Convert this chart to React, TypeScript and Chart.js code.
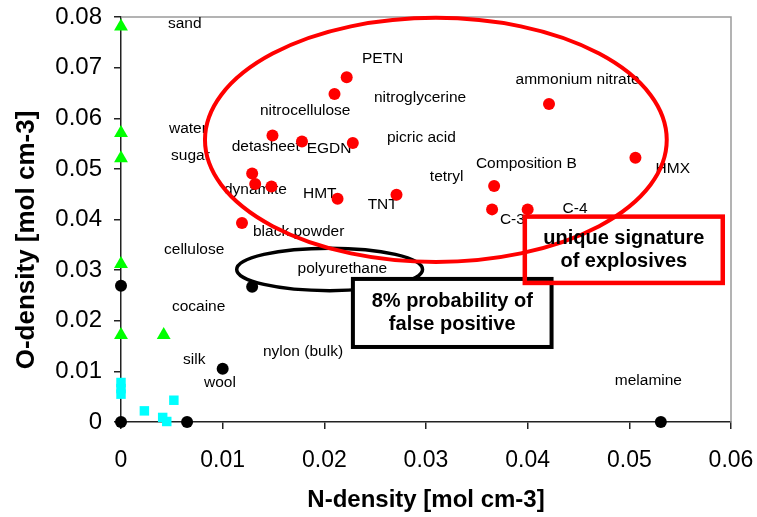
import React, { useEffect, useRef } from 'react';
import { Chart, registerables } from 'chart.js';

Chart.register(...registerables);

// ---- data (N-density, O-density in mol cm-3) ----
const explosivesN = [0.0222, 0.0210, 0.0149, 0.0178, 0.0228, 0.0129, 0.0132, 0.0148, 0.0213, 0.0271, 0.0119, 0.0367, 0.0365, 0.0421, 0.0506, 0.0400];
const explosivesO = [0.0681, 0.0648, 0.0566, 0.0554, 0.0551, 0.0491, 0.0470, 0.0465, 0.0441, 0.0449, 0.0393, 0.0466, 0.0420, 0.0628, 0.0522, 0.0420];

const greenN = [0, 0, 0, 0, 0, 0.0042];
const greenO = [0.0781, 0.0571, 0.0521, 0.0312, 0.0172, 0.0172];

const blackN = [0, 0.0129, 0.0100, 0, 0.0065, 0.0531];
const blackO = [0.0269, 0.0267, 0.0105, 0, 0, 0];

const cyanN = [0, 0, 0, 0.0023, 0.0041, 0.0045, 0.0052];
const cyanO = [0.0078, 0.0066, 0.0055, 0.0022, 0.0009, 0.0001, 0.0043];

const materialNames = ['sand', 'water', 'sugar', 'nitrocellulose', 'PETN', 'nitroglycerine', 'detasheet', 'EGDN', 'picric acid', 'dynamite', 'HMT', 'TNT', 'tetryl', 'Composition B', 'ammonium nitrate', 'HMX', 'C-3', 'C-4', 'black powder', 'cellulose', 'cocaine', 'silk', 'wool', 'nylon (bulk)', 'polyurethane', 'melamine'];
const materialNameN = [0.00462, 0.00472, 0.00492, 0.01367, 0.02370, 0.02488, 0.01089, 0.01826, 0.02616, 0.01013, 0.01790, 0.02426, 0.03038, 0.03491, 0.03881, 0.05258, 0.03727, 0.04343, 0.01298, 0.00423, 0.00501, 0.00610, 0.00816, 0.01396, 0.01737, 0.04857];
const materialNameO = [0.07866, 0.05791, 0.05257, 0.06152, 0.07174, 0.06403, 0.05435, 0.05395, 0.05619, 0.04585, 0.04506, 0.04289, 0.04842, 0.05099, 0.06759, 0.05000, 0.03992, 0.04215, 0.03755, 0.03399, 0.02279, 0.01225, 0.00777, 0.01389, 0.03018, 0.00810];

const xTickValues = [0, 0.01, 0.02, 0.03, 0.04, 0.05, 0.06];
const xTickLabels = ['0', '0.01', '0.02', '0.03', '0.04', '0.05', '0.06'];
const yTickValues = [0, 0.01, 0.02, 0.03, 0.04, 0.05, 0.06, 0.07, 0.08];
const yTickLabels = ['0', '0.01', '0.02', '0.03', '0.04', '0.05', '0.06', '0.07', '0.08'];

const xTitle = 'N-density [mol cm-3]';
const yTitle = 'O-density [mol cm-3]';

// ---- annotation shapes (in data units) ----
const redEllipse = { cx: 0.03097, cy: 0.05573, rx: 0.02271, ry: 0.02411 };
const blackEllipse = { cx: 0.02052, cy: 0.03014, rx: 0.00914, ry: 0.00419 };
const redBox = { x0: 0.03972, x1: 0.05919, y0: 0.02747, y1: 0.04057, lines: ['unique signature', 'of explosives'] };
const blackBox = { x0: 0.02281, x1: 0.04235, y0: 0.01482, y1: 0.02826, lines: ['8% probability of', 'false positive'] };

const FONT = '"Liberation Sans", Arial, sans-serif';

const overlayPlugin = {
  id: 'overlay',
  beforeDatasetsDraw(chart: any) {
    const { ctx, chartArea } = chart;
    const xs = chart.scales.x;
    const ys = chart.scales.y;
    ctx.save();

    // top & right plot border
    ctx.strokeStyle = '#9a9a9a';
    ctx.lineWidth = 1.5;
    ctx.beginPath();
    ctx.moveTo(chartArea.left, chartArea.top);
    ctx.lineTo(chartArea.right, chartArea.top);
    ctx.lineTo(chartArea.right, chartArea.bottom);
    ctx.stroke();

    // material labels
    ctx.fillStyle = '#000';
    ctx.font = `15.5px ${FONT}`;
    ctx.textAlign = 'left';
    ctx.textBaseline = 'middle';
    materialNames.forEach((t, i) => {
      ctx.fillText(t, xs.getPixelForValue(materialNameN[i]), ys.getPixelForValue(materialNameO[i]));
    });

    const drawEllipse = (e: any, color: string, lw: number) => {
      const px = xs.getPixelForValue(e.cx);
      const py = ys.getPixelForValue(e.cy);
      const rx = Math.abs(xs.getPixelForValue(e.cx + e.rx) - px);
      const ry = Math.abs(ys.getPixelForValue(e.cy + e.ry) - py);
      ctx.beginPath();
      ctx.ellipse(px, py, rx, ry, 0, 0, Math.PI * 2);
      ctx.strokeStyle = color;
      ctx.lineWidth = lw;
      ctx.stroke();
    };

    const drawBox = (b: any, color: string, lw: number, fill: boolean) => {
      const l = xs.getPixelForValue(b.x0);
      const r = xs.getPixelForValue(b.x1);
      const t = ys.getPixelForValue(b.y1);
      const bt = ys.getPixelForValue(b.y0);
      if (fill) {
        ctx.fillStyle = '#fff';
        ctx.fillRect(l, t, r - l, bt - t);
      }
      ctx.strokeStyle = color;
      ctx.lineWidth = lw;
      ctx.strokeRect(l, t, r - l, bt - t);
      ctx.fillStyle = '#000';
      ctx.font = `bold 20px ${FONT}`;
      ctx.textAlign = 'center';
      ctx.textBaseline = 'middle';
      const cx = (l + r) / 2;
      const cy = (t + bt) / 2;
      ctx.fillText(b.lines[0], cx, cy - 11.75);
      ctx.fillText(b.lines[1], cx, cy + 11.75);
    };

    drawEllipse(blackEllipse, '#000', 3.5);
    drawBox(blackBox, '#000', 4, true);
    drawEllipse(redEllipse, '#ff0000', 4);
    drawBox(redBox, '#ff0000', 4.5, false);

    ctx.restore();
  },
  afterDraw(chart: any) {
    const { ctx } = chart;
    ctx.save();
    ctx.translate(33.5, 240);
    ctx.rotate(-Math.PI / 2);
    ctx.font = `bold 26px ${FONT}`;
    ctx.fillStyle = '#000';
    ctx.textAlign = 'center';
    ctx.textBaseline = 'alphabetic';
    ctx.fillText(yTitle, 0, 0);
    ctx.restore();
  },
};

const toPoints = (xs: number[], ys: number[]) => xs.map((v, i) => ({ x: v, y: ys[i] }));

const zeroPadding = (scale: any) => {
  scale.paddingLeft = 0;
  scale.paddingRight = 0;
  scale.paddingTop = 0;
  scale.paddingBottom = 0;
};

export default function App() {
  const ref = useRef<HTMLCanvasElement | null>(null);

  useEffect(() => {
    document.body.style.margin = '0';
    if (!ref.current) return;
    const chart = new Chart(ref.current, {
      type: 'scatter',
      data: {
        datasets: [
          {
            label: 'other',
            data: toPoints(cyanN, cyanO),
            pointStyle: 'rect',
            pointRadius: 6.7,
            backgroundColor: '#00ffff',
            borderWidth: 0,
            clip: false,
          },
          {
            label: 'non-explosive (black)',
            data: toPoints(blackN, blackO),
            pointStyle: 'circle',
            pointRadius: 6,
            backgroundColor: '#000',
            borderWidth: 0,
            clip: false,
          },
          {
            label: 'non-explosive (green)',
            data: toPoints(greenN, greenO),
            pointStyle: 'triangle',
            pointRadius: 8,
            backgroundColor: '#00ff00',
            borderWidth: 0,
            clip: false,
          },
          {
            label: 'explosives',
            data: toPoints(explosivesN, explosivesO),
            pointStyle: 'circle',
            pointRadius: 6,
            backgroundColor: '#ff0000',
            borderWidth: 0,
            clip: false,
          },
        ] as any,
      },
      options: {
        responsive: false,
        animation: false,
        events: [],
        layout: { autoPadding: false, padding: { top: 17, right: 26, left: 0, bottom: 0 } },
        plugins: {
          legend: { display: false },
          tooltip: { enabled: false },
        },
        scales: {
          x: {
            type: 'linear',
            min: 0,
            max: 0.06,
            afterBuildTicks: (scale: any) => {
              scale.ticks = xTickValues.map((v) => ({ value: v }));
            },
            afterFit: (scale: any) => {
              scale.height = 95;
              zeroPadding(scale);
            },
            grid: {
              drawOnChartArea: false,
              drawTicks: true,
              tickLength: 7,
              color: '#222',
              lineWidth: 1.5,
            },
            border: { display: true, color: '#222', width: 1.5 },
            ticks: {
              padding: 18,
              color: '#000',
              font: { family: FONT, size: 23 },
              maxRotation: 0,
              autoSkip: false,
              callback: (_v: any, i: number) => xTickLabels[i],
            },
            title: {
              display: true,
              text: xTitle,
              color: '#000',
              font: { family: FONT, size: 24, weight: 'bold' },
              padding: { top: 0, bottom: 2 },
            },
          },
          y: {
            type: 'linear',
            min: 0,
            max: 0.08,
            afterBuildTicks: (scale: any) => {
              scale.ticks = yTickValues.map((v) => ({ value: v }));
            },
            afterFit: (scale: any) => {
              scale.width = 121;
              zeroPadding(scale);
            },
            grid: {
              drawOnChartArea: false,
              drawTicks: true,
              tickLength: 7,
              color: '#222',
              lineWidth: 1.5,
            },
            border: { display: true, color: '#222', width: 1.5 },
            ticks: {
              padding: 12,
              color: '#000',
              font: { family: FONT, size: 24 },
              autoSkip: false,
              callback: (_v: any, i: number) => yTickLabels[i],
            },
          },
        },
      } as any,
      plugins: [overlayPlugin],
    });
    return () => chart.destroy();
  }, []);

  return (
    <div style={{ width: 757, height: 517, background: '#fff' }}>
      <canvas ref={ref} width={757} height={517} style={{ display: 'block' }} />
    </div>
  );
}
